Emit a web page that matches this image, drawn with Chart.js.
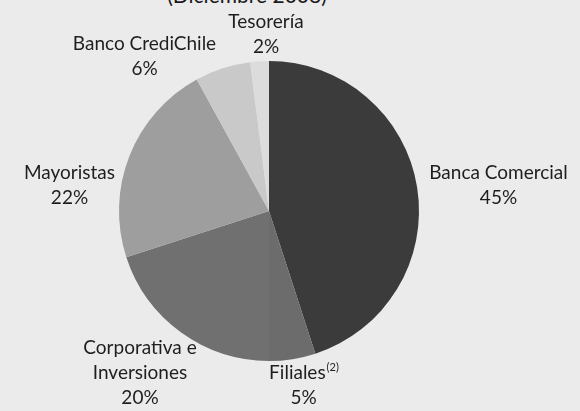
<!DOCTYPE html>
<html>
<head>
<meta charset="utf-8">
<script src="https://cdn.jsdelivr.net/npm/chart.js@4.4.1/dist/chart.umd.min.js"></script>
<style>
  html, body { margin: 0; padding: 0; background: #ebebeb; overflow: hidden; }
  #wrap { position: relative; width: 580px; height: 411px; }
  #title {
    position: absolute; left: 0; width: 494px; top: -16px;
    text-align: center; font: 21px Lato, sans-serif; line-height: 21px; color: #1a1a1a;
  }
  canvas { position: absolute; left: 0; top: 0; }
</style>
</head>
<body>
<div id="wrap">
  <div id="title">(Diciembre 2008)</div>
  <canvas id="pie" width="580" height="411"></canvas>
</div>
<script>
// segments, clockwise from 12 o'clock
const categories = ['Banca Comercial', 'Filiales', 'Corporativa e Inversiones', 'Mayoristas', 'Banco CrediChile', 'Tesorería'];
const shares = [45, 5, 20, 22, 6, 2];
// how each label is broken into lines on the chart
const labelLines = [
    ['Banca Comercial'],
    ['Filiales'],
    ['Corporativa e', 'Inversiones'],
    ['Mayoristas'],
    ['Banco CrediChile'],
    ['Tesorería']
];
const footnotes = ['', '(2)', '', '', '', ''];

const colors = ['#3b3b3b', '#6c6c6c', '#707070', '#9e9e9e', '#c9c9c9', '#dcdcdc'];
// label block centres, relative to pie centre, in units of the radius
const labelSpots = [
    [1.53, -0.17], [0.23, 1.16], [-0.86, 1.08], [-1.33, -0.17], [-0.83, -1.03], [-0.02, -1.18]
];

const FONT = '19px Lato, sans-serif';
const SUP_FONT = '11px Lato, sans-serif';
const LINE_H = 25;

const outsideLabels = {
    id: 'outsideLabels',
    afterDatasetsDraw(chart) {
        const ctx = chart.ctx;
        const arcs = chart.getDatasetMeta(0).data;
        ctx.save();
        ctx.fillStyle = '#1e1e1e';
        ctx.textBaseline = 'middle';
        arcs.forEach((arc, i) => {
            const r = arc.outerRadius;
            const cx = arc.x + labelSpots[i][0] * r;
            const cy = arc.y + labelSpots[i][1] * r;
            const lines = labelLines[i].concat([shares[i] + '%']);
            const top = cy - (lines.length - 1) * LINE_H / 2;
            lines.forEach((txt, k) => {
                const y = top + k * LINE_H;
                ctx.font = FONT;
                const w = ctx.measureText(txt).width;
                let sw = 0;
                if (k === 0 && footnotes[i]) {
                    ctx.font = SUP_FONT;
                    sw = ctx.measureText(footnotes[i]).width;
                }
                const x0 = cx - (w + sw) / 2;
                ctx.font = FONT;
                ctx.textAlign = 'left';
                ctx.fillText(txt, x0, y);
                if (sw) {
                    ctx.font = SUP_FONT;
                    ctx.fillText(footnotes[i], x0 + w + 1, y - 5);
                }
            });
        });
        ctx.restore();
    }
};

new Chart(document.getElementById('pie'), {
    type: 'pie',
    data: {
        labels: categories,
        datasets: [{
            data: shares,
            backgroundColor: colors,
            borderWidth: 0
        }]
    },
    options: {
        responsive: false,
        animation: false,
        layout: { padding: { top: 61, bottom: 50, left: 100, right: 142 } },
        plugins: {
            legend: { display: false },
            tooltip: { enabled: false },
            title: { display: false }
        }
    },
    plugins: [outsideLabels]
});
</script>
</body>
</html>
